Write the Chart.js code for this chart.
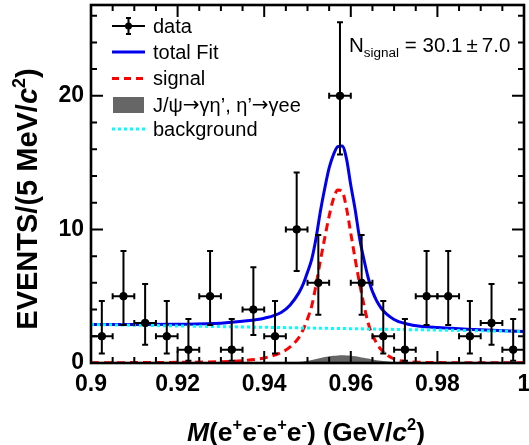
<!DOCTYPE html>
<html><head><meta charset="utf-8">
<script src="https://cdn.jsdelivr.net/npm/chart.js@4/dist/chart.umd.min.js"></script>
<style>html,body{margin:0;padding:0;background:#fff}#wrap{width:529px;height:445px}</style>
</head><body><div id="wrap"><canvas id="c" width="529" height="445"></canvas></div>
<script>
// ---- data ----
const binCenters = [0.9025,0.9075,0.9125,0.9175,0.9225,0.9275,0.9325,0.9375,0.9425,0.9475,
                    0.9525,0.9575,0.9625,0.9675,0.9725,0.9775,0.9825,0.9875,0.9925,0.9975];
const counts     = [2,5,3,2,1,5,1,4,2,10,6,20,6,2,1,5,5,2,3,1];
const errTop     = [4.64,8.38,5.92,4.64,3.30,8.38,3.30,7.16,4.64,14.27,9.58,25.5,9.58,4.64,3.30,8.38,8.38,4.64,5.92,3.30];
const errBottom  = [0.71,2.84,1.37,0.71,0.17,2.84,0.17,2.09,0.71,6.89,3.62,15.6,3.62,0.71,0.17,2.84,2.84,0.71,1.37,0.17];
const binHalfWidth = 0.0025;

const curveX     = [0.9,0.91,0.92,0.93,0.935,0.94,0.944,0.946,0.948,0.949,0.95,0.951,0.952,0.953,0.954,0.955,0.956,0.957,0.958,
                    0.959,0.96,0.961,0.962,0.963,0.964,0.965,0.967,0.97,0.973,0.976,0.98,0.99,1.0];
const totalFit   = [2.88,2.88,2.9,2.98,3.12,3.35,3.8,4.35,5.25,5.9,6.8,7.8,9.4,11.4,13.1,14.6,15.6,16.2,16.25,
                    15.3,13.3,11.5,9.4,7.8,6.4,5.35,4.1,3.25,2.92,2.75,2.65,2.48,2.35];
const signalFit  = [0.02,0.03,0.05,0.1,0.18,0.38,0.8,1.2,1.9,2.5,3.3,4.3,5.9,7.7,9.4,11.0,12.3,12.95,12.85,
                    11.6,9.7,7.8,6.0,4.4,3.0,2.1,1.0,0.3,0.1,0.05,0.03,0.02,0.01];
const peakingBkg = [0,0,0,0,0,0,0,0.02,0.08,0.12,0.17,0.23,0.3,0.37,0.44,0.5,0.54,0.57,0.58,
                    0.57,0.55,0.5,0.45,0.39,0.33,0.27,0.16,0.05,0.01,0,0,0,0];
const bkgX = [0.9, 1.0];
const bkgY = [2.88, 2.36];

const xMin = 0.9, xMax = 1.0, yMin = 0, yMax = 26.8;
const legendLabels = ['data','total Fit','signal','J/\u03C8\u2192\u03B3\u03B7\u2019, \u03B7\u2019\u2192\u03B3ee','background'];

// ---- build datasets ----
const xy = (xs, ys) => xs.map((x, i) => ({x: x, y: ys[i]}));
const FONT = '"Liberation Sans", Arial, Helvetica, sans-serif';
const ARROW_FONT = '"DejaVu Sans", sans-serif';

function drawRich(ctx, parts, x, y, size, align) {
  const items = parts.map(p => {
    const s = (p.sup || p.sub) ? size * (p.scale || 0.62) : size;
    const f = (p.it ? 'italic ' : '') + (p.bold ? 'bold ' : '') + s + 'px ' + (p.fam || FONT);
    ctx.font = f;
    return {p, f, w: ctx.measureText(p.t).width, s};
  });
  const total = items.reduce((a, b) => a + b.w, 0);
  let cx = align === 'center' ? x - total / 2 : x;
  items.forEach(it => {
    ctx.font = it.f;
    let dy = 0;
    if (it.p.sup) dy = -size * 0.42;
    if (it.p.sub) dy = size * 0.25;
    ctx.fillText(it.p.t, cx, y + dy);
    cx += it.w;
  });
}

// split a label so that arrows use a font with a long arrow glyph
function splitArrows(t) {
  return t.split(/(\u2192)/).filter(s => s.length).map(s => s === '\u2192' ? {t: s, fam: ARROW_FONT} : {t: s});
}

const framePlugin = {
  id: 'frame',
  afterDatasetsDraw(chart) {
    const ctx = chart.ctx, xs = chart.scales.x, ys = chart.scales.y;
    ctx.save();
    ctx.strokeStyle = '#000'; ctx.lineWidth = 2;
    binCenters.forEach((c, i) => {
      const px = xs.getPixelForValue(c), py = ys.getPixelForValue(counts[i]);
      const pt = ys.getPixelForValue(errTop[i]), pb = ys.getPixelForValue(errBottom[i]);
      const pl = xs.getPixelForValue(c - binHalfWidth), pr = xs.getPixelForValue(c + binHalfWidth);
      ctx.beginPath();
      ctx.moveTo(px, Math.max(pt, chart.chartArea.top)); ctx.lineTo(px, pb);
      ctx.moveTo(px - 3, pt); ctx.lineTo(px + 3, pt);
      ctx.moveTo(px - 3, pb); ctx.lineTo(px + 3, pb);
      ctx.moveTo(pl, py); ctx.lineTo(pr, py);
      ctx.moveTo(pl, py - 3); ctx.lineTo(pl, py + 3);
      ctx.moveTo(pr, py - 3); ctx.lineTo(pr, py + 3);
      ctx.stroke();
    });
    ctx.restore();
  },
  afterDraw(chart) {
    const ctx = chart.ctx, a = chart.chartArea, xs = chart.scales.x, ys = chart.scales.y;
    ctx.save();
    ctx.strokeStyle = '#000';
    ctx.lineWidth = 2;
    ctx.beginPath();
    for (let i = 0; i <= 20; i++) {
      const v = xMin + i * 0.005, px = xs.getPixelForValue(v);
      const len = (i % 4 === 0) ? 12 : 6;
      ctx.moveTo(px, a.bottom); ctx.lineTo(px, a.bottom - len);
      ctx.moveTo(px, a.top); ctx.lineTo(px, a.top + len);
    }
    for (let v = 0; v <= yMax; v += 2) {
      const py = ys.getPixelForValue(v);
      const len = (v % 10 === 0) ? 12 : 6;
      ctx.moveTo(a.left, py); ctx.lineTo(a.left + len, py);
      ctx.moveTo(a.right, py); ctx.lineTo(a.right - len, py);
    }
    ctx.stroke();
    ctx.lineWidth = 2.6;
    ctx.strokeRect(a.left, a.top, a.right - a.left, a.bottom - a.top);

    // legend
    ctx.fillStyle = '#000';
    ctx.textBaseline = 'middle';
    const lx0 = 112, lx1 = 145, tx = 153;
    const rows = [26, 52, 78.5, 105, 129];
    ctx.lineWidth = 2;
    ctx.beginPath();
    ctx.moveTo(lx0, rows[0]); ctx.lineTo(lx1, rows[0]);
    ctx.moveTo(128.5, rows[0] - 8); ctx.lineTo(128.5, rows[0] + 8);
    ctx.moveTo(126, rows[0] - 8); ctx.lineTo(131, rows[0] - 8);
    ctx.moveTo(126, rows[0] + 8); ctx.lineTo(131, rows[0] + 8);
    ctx.stroke();
    ctx.beginPath(); ctx.arc(128.5, rows[0], 3.5, 0, Math.PI * 2); ctx.fill();
    ctx.strokeStyle = '#0000ee'; ctx.lineWidth = 3;
    ctx.beginPath(); ctx.moveTo(lx0, rows[1]); ctx.lineTo(lx1, rows[1]); ctx.stroke();
    ctx.strokeStyle = '#ff0000'; ctx.setLineDash([7, 5]);
    ctx.beginPath(); ctx.moveTo(lx0, rows[2]); ctx.lineTo(lx1, rows[2]); ctx.stroke();
    ctx.setLineDash([]);
    ctx.fillStyle = '#666666';
    ctx.fillRect(113, rows[3] - 8, 31, 16);
    ctx.strokeStyle = '#00ffff'; ctx.setLineDash([3, 3]);
    ctx.beginPath(); ctx.moveTo(lx0, rows[4]); ctx.lineTo(lx1, rows[4]); ctx.stroke();
    ctx.setLineDash([]);
    ctx.fillStyle = '#000';
    legendLabels.forEach((t, i) => drawRich(ctx, splitArrows(t), tx, rows[i] + 1, 20, 'left'));

    // N_signal
    ctx.textBaseline = 'alphabetic';
    drawRich(ctx, [{t:'N'}, {t:'signal', sub:true, scale:0.66}, {t:' = 30.1\u2009\u00B1\u20097.0'}], 349, 52, 20.5, 'left');

    // axis titles
    drawRich(ctx, [{t:'M', it:true, bold:true}, {t:'(e', bold:true}, {t:'+', sup:true, bold:true},
                   {t:'e', bold:true}, {t:'-', sup:true, bold:true}, {t:'e', bold:true}, {t:'+', sup:true, bold:true},
                   {t:'e', bold:true}, {t:'-', sup:true, bold:true}, {t:') (GeV/', bold:true}, {t:'c', it:true, bold:true},
                   {t:'2', sup:true, bold:true}, {t:')', bold:true}], 306, 441, 26.5, 'center');
    ctx.save();
    ctx.translate(37, 199);
    ctx.rotate(-Math.PI / 2);
    drawRich(ctx, [{t:'EVENTS/(5 MeV/', bold:true}, {t:'c', it:true, bold:true}, {t:'2', sup:true, bold:true},
                   {t:')', bold:true}], 0, 0, 29, 'center');
    ctx.restore();
    ctx.restore();
  }
};

new Chart(document.getElementById('c'), {
  type: 'scatter',
  data: {
    datasets: [
      {label: 'data', data: xy(binCenters, counts), showLine: false, pointRadius: 3.8,
       pointBackgroundColor: '#000', pointBorderColor: '#000', order: 0},
      {label: 'background', data: xy(bkgX, bkgY), showLine: true, pointRadius: 0, borderColor: '#00ffff',
       borderWidth: 3, borderDash: [3, 3], order: 1},
      {label: 'signal', data: xy(curveX, signalFit), showLine: true, pointRadius: 0, borderColor: '#ff0000',
       borderWidth: 3, borderDash: [8, 5], cubicInterpolationMode: 'monotone', order: 2},
      {label: 'total Fit', data: xy(curveX, totalFit), showLine: true, pointRadius: 0, borderColor: '#0000ee',
       borderWidth: 3, cubicInterpolationMode: 'monotone', order: 3},
      {label: 'peaking', data: xy(curveX, peakingBkg), showLine: true, pointRadius: 0, borderWidth: 0,
       borderColor: 'rgba(0,0,0,0)', backgroundColor: '#666666', fill: 'origin',
       cubicInterpolationMode: 'monotone', order: 4}
    ]
  },
  options: {
    responsive: false, animation: false, devicePixelRatio: 1,
    layout: {padding: {top: 4, right: 4, left: 0, bottom: 0}},
    plugins: {legend: {display: false}, tooltip: {enabled: false}},
    scales: {
      x: {type: 'linear', min: xMin, max: xMax,
          grid: {display: false, drawTicks: false}, border: {display: false},
          ticks: {stepSize: 0.02, includeBounds: false, padding: 8, color: '#000',
                  font: {family: FONT, size: 23, weight: 'bold'},
                  callback: v => String(+v.toFixed(2))},
          afterFit: s => { s.height = 82; s.paddingLeft = 0; s.paddingRight = 0; }},
      y: {type: 'linear', min: yMin, max: yMax,
          grid: {display: false, drawTicks: false}, border: {display: false},
          ticks: {stepSize: 10, includeBounds: false, padding: 7, color: '#000',
                  font: {family: FONT, size: 23, weight: 'bold'}},
          afterFit: s => { s.width = 91; s.paddingTop = 0; s.paddingBottom = 0; }}
    }
  },
  plugins: [framePlugin]
});
</script>
</body></html>
